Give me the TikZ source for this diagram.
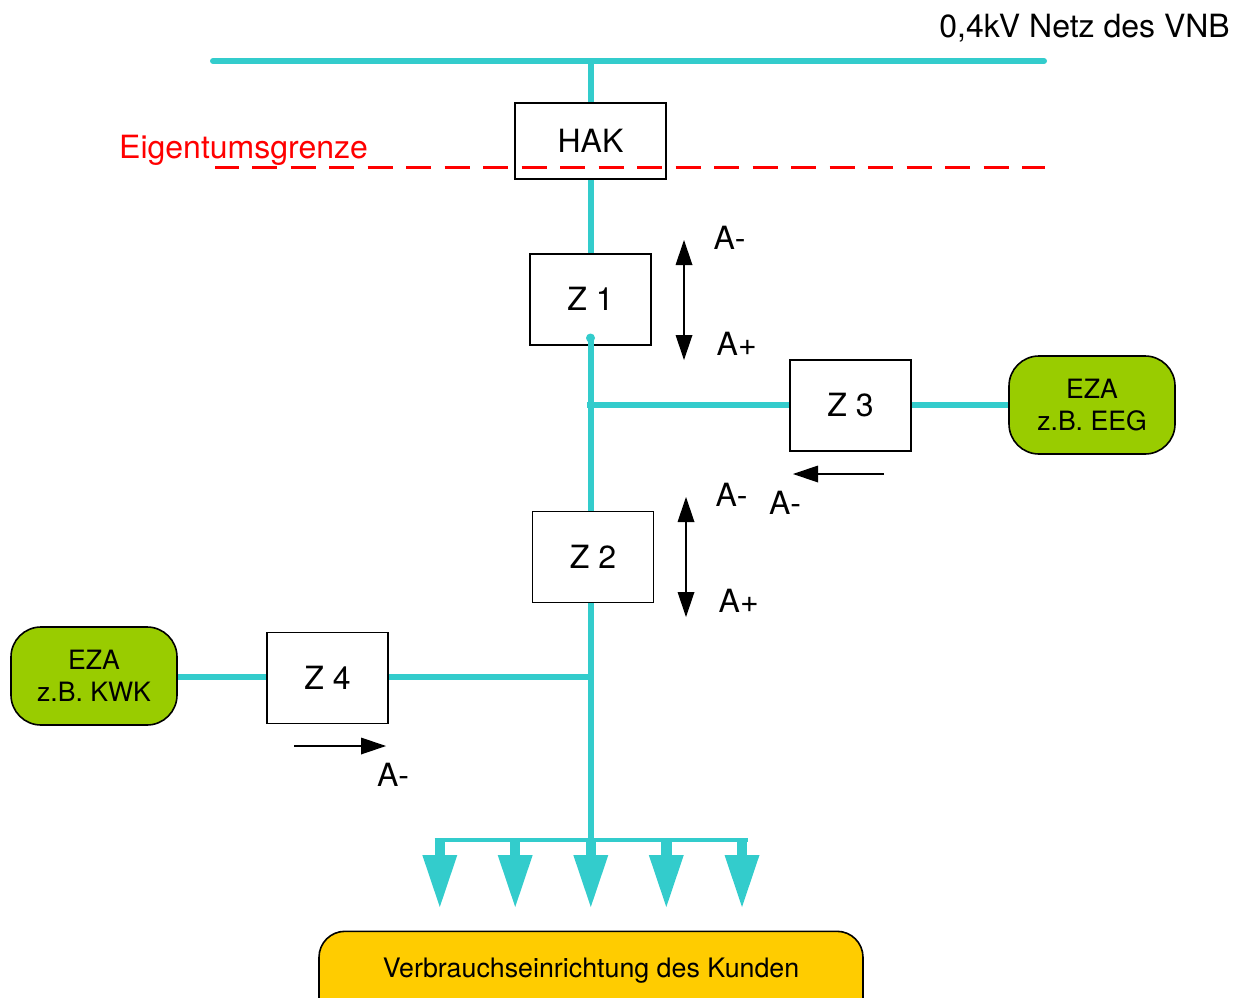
\documentclass[tikz,border=0pt]{standalone}
\usepackage{fontspec}
\setmainfont{TeX Gyre Heros}
\usetikzlibrary{arrows.meta}
\definecolor{teal1}{HTML}{33CCCC}
\definecolor{green1}{HTML}{99CC00}
\definecolor{gold1}{HTML}{FFCC00}
\tikzset{
  x=1pt,y=-1pt,
  box/.style={draw=black,fill=white,line width=1.6pt,minimum width=121pt,minimum height=91pt,inner sep=0pt,font=\fontsize{32}{32}\selectfont},
  rbox/.style={draw=black,line width=1.6pt,rounded corners=30pt,fill=green1,minimum width=166pt,minimum height=98pt,inner sep=0pt,align=center,font=\fontsize{26.6}{32}\selectfont},
  wire/.style={draw=teal1,line width=6pt},
  lbl/.style={inner sep=0pt,font=\fontsize{32}{32}\selectfont},
  bigarrow/.style={draw=teal1,line width=10.5pt,-{Triangle[line width=0pt,width=35pt,length=52pt,fill=teal1]}},
  dbl/.style={draw=black,line width=1.7pt,{Triangle[line width=0pt,width=17pt,length=25pt]}-{Triangle[line width=0pt,width=17pt,length=25pt]}},
  sgl/.style={draw=black,line width=1.7pt,-{Triangle[line width=0pt,width=17pt,length=25pt]}}
}
\begin{document}
\begin{tikzpicture}
\useasboundingbox (0,0) rectangle (1239,998);
\clip (0,0) rectangle (1239,998);
\coordinate (busL) at (213,61);
\coordinate (busR) at (1044,61);
\coordinate (busT) at (590.5,61);
\node[box,minimum width=151pt,minimum height=76pt] (hak) at (590.5,141) {\raisebox{1pt}{HAK}};
\node[box] (z1) at (590.5,299.5) {\raisebox{1.5pt}{Z 1}};
\node[box] (z3) at (850.5,405.5) {\raisebox{1pt}{Z 3}};
\node[box] (z2) at (593,557) {\raisebox{1pt}{Z 2}};
\node[box] (z4) at (327.5,678) {\raisebox{1pt}{Z 4}};
\node[rbox] (eza1) at (1092,405) {EZA\\z.B. EEG};
\node[rbox] (eza2) at (94,676) {EZA\\z.B. KWK};
\node[draw=black,fill=gold1,line width=1.6pt,rounded corners=26pt,minimum width=544pt,minimum height=92pt,inner sep=0pt,anchor=north] (kunde) at (591,930.5) {};
\node[font=\fontsize{26.8}{27}\selectfont,inner sep=0pt] (kundet) at (591,971) {Verbrauchseinrichtung des Kunden};
% wires
\draw[wire,line cap=round] (busL) -- (busR);
\draw[wire] (busT) -- (hak.north -| busT);
\draw[wire] (hak.south -| busT) -- (z1.north -| busT);
\coordinate (dot) at (590.5,338);
\coordinate (j3) at (587,405);
\coordinate (j4) at (590.5,677);
\coordinate (bus2) at (590.5,840);
\fill[teal1] (dot) circle (4.5pt);
\draw[wire] (dot) -- (z2.north -| dot);
\draw[wire] (z2.south -| dot) -- (bus2);
\draw[wire] (j3) -- (z3.west |- j3);
\draw[wire] (z3.east |- j3) -- (eza1.west |- j3);
\draw[wire] (j4) -- (z4.east |- j4);
\draw[wire] (z4.west |- j4) -- (eza2.east |- j4);
% consumer arrows
\coordinate (bL) at (434.5,840);
\coordinate (bR) at (747.5,840);
\draw[draw=teal1,line width=3.5pt] (bL) -- (bR);
\foreach \n/\x in {a/439.8,b/515.2,c/590.8,d/666.3,e/742}{
  \coordinate (\n s) at (\x,838);
  \coordinate (\n e) at (\x,907);
  \draw[bigarrow] (\n s) -- (\n e);
}
% red line
\coordinate (rL) at (215,167.5);
\coordinate (rR) at (1045,167.5);
\draw[red,line width=3pt,dash pattern=on 25pt off 13.5pt,dash phase=1.3pt] (rL) -- (rR);
% texts
\node[lbl,anchor=east] (netz) at (1230,28.5) {0,4kV Netz des VNB};
\node[lbl,anchor=west,red] (eig) at (119,150.5) {Eigentumsgrenze};
% black arrows
\coordinate (a1) at (684,240); \coordinate (a2) at (684,360);
\draw[dbl] (a1) -- (a2);
\coordinate (b1) at (686,497); \coordinate (b2) at (686,617);
\draw[dbl] (b1) -- (b2);
\coordinate (c1) at (884,474); \coordinate (c2) at (793,474);
\draw[sgl] (c1) -- (c2);
\coordinate (d1) at (294,746); \coordinate (d2) at (386,746);
\draw[sgl] (d1) -- (d2);
\node[lbl,anchor=west] (l1) at (713.5,238) {A-};
\node[lbl,anchor=west] (l2) at (716.5,344) {A+};
\node[lbl,anchor=west] (l3) at (715.5,494.5) {A-};
\node[lbl,anchor=west] (l4) at (718.5,601) {A+};
\node[lbl,anchor=west] (l5) at (769,503) {A-};
\node[lbl,anchor=west] (l6) at (377,775) {A-};
\end{tikzpicture}
\end{document}
